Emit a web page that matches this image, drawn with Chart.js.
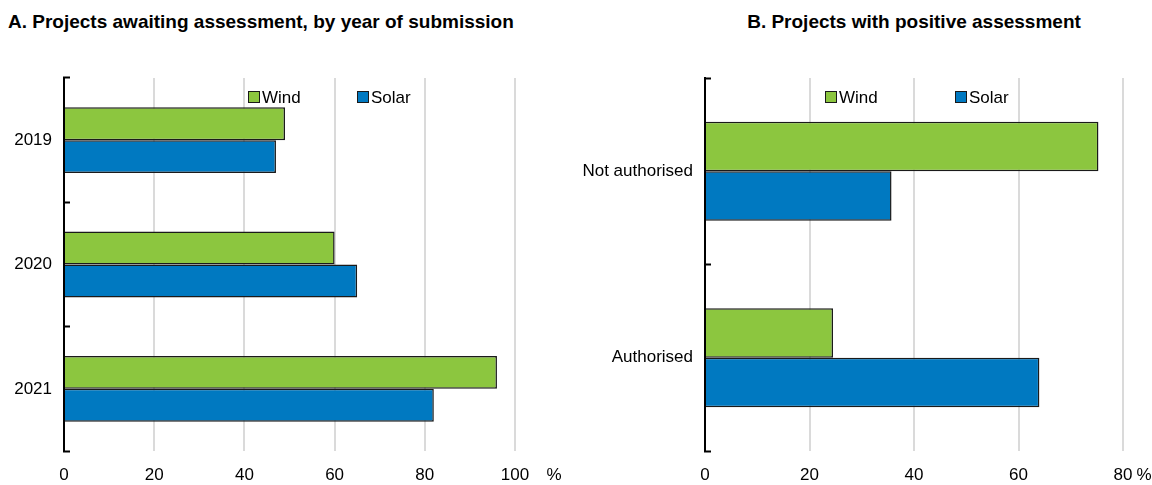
<!DOCTYPE html>
<html>
<head>
<meta charset="utf-8">
<script src="https://cdn.jsdelivr.net/npm/chart.js@4.4.1/dist/chart.umd.min.js"></script>
<style>
    body { margin: 0; background: #fff; }
    #wrap { position: relative; width: 1152px; height: 485px; overflow: hidden; }
    .title { position: absolute; top: 11px; font-family: "Liberation Sans", Arial, sans-serif; font-weight: bold; font-size: 19px; color: #000; white-space: nowrap; }
    #titleA { left: 8px; }
    #titleB { left: 705px; width: 418px; text-align: center; }
    .box { position: absolute; top: 0; width: 576px; height: 485px; }
</style>
</head>
<body>
<div id="wrap">
    <div class="title" id="titleA">A. Projects awaiting assessment, by year of submission</div>
    <div class="title" id="titleB">B. Projects with positive assessment</div>
    <div class="box" style="left:0"><canvas id="chartA"></canvas></div>
    <div class="box" style="left:576px"><canvas id="chartB"></canvas></div>
</div>
<script>

// panel A data - share of projects awaiting assessment (%)
var yearLabels = ["2019", "2020", "2021"];
var windAwaiting = [49, 60, 96];
var solarAwaiting = [47, 65, 82];

// panel B data - projects with positive assessment (%)
var statusLabels = ["Not authorised", "Authorised"];
var windPositive = [75.3, 24.5];
var solarPositive = [35.7, 64];

var xTicksA = [0, 20, 40, 60, 80, 100];
var xTicksB = [0, 20, 40, 60, 80];

var windColor = "#8cc63f";
var solarColor = "#0079c1";
var fontFamily = '"Liberation Sans", Arial, sans-serif';

Chart.defaults.font.family = fontFamily;
Chart.defaults.font.size = 17;
Chart.defaults.color = "#000";

// legend drawn inside the plot, boxes + names from the datasets
var insideLegend = {
    id: 'insideLegend',
    afterDraw: function (chart, args, opts) {
        var ctx = chart.ctx;
        var area = chart.chartArea;
        ctx.save();
        ctx.font = "17px " + fontFamily;
        ctx.textBaseline = "middle";
        ctx.textAlign = "left";
        chart.data.datasets.forEach(function (ds, i) {
            var x = area.left + opts.offsets[i];
            var y = opts.y;
            ctx.fillStyle = ds.backgroundColor;
            ctx.fillRect(x, y - 6, 12, 12);
            ctx.strokeStyle = "#1a1a1a";
            ctx.lineWidth = 1;
            ctx.strokeRect(x + 0.5, y - 5.5, 11, 11);
            ctx.fillStyle = "#000";
            ctx.fillText(ds.label, x + 14, y + 1);
        });
        ctx.restore();
    }
};

// unit sign after the last x tick
var unitLabel = {
    id: 'unitLabel',
    afterDraw: function (chart, args, opts) {
        var ctx = chart.ctx;
        ctx.save();
        ctx.font = "17px " + fontFamily;
        ctx.fillStyle = "#000";
        ctx.textAlign = "center";
        ctx.textBaseline = "middle";
        ctx.fillText("%", chart.chartArea.right + opts.dx, 475);
        ctx.restore();
    }
};

function makeChart(id, labels, wind, solar, xTicks, yWidth, rightPad, legendOffsets, unitDx) {
    var ctx = document.getElementById(id).getContext('2d');
    return new Chart(ctx, {
        type: 'bar',
        data: {
            labels: labels,
            datasets: [{
                label: 'Wind',
                data: wind,
                backgroundColor: windColor,
                borderColor: "#1a1a1a",
                borderWidth: 1.5,
                categoryPercentage: 0.53,
                barPercentage: 1
            }, {
                label: 'Solar',
                data: solar,
                backgroundColor: solarColor,
                borderColor: "#1a1a1a",
                borderWidth: 1.5,
                categoryPercentage: 0.53,
                barPercentage: 1
            }]
        },
        options: {
            indexAxis: 'y',
            responsive: true,
            maintainAspectRatio: false,
            animation: false,
            layout: { padding: { top: 78, right: rightPad, left: 0, bottom: 0 } },
            plugins: {
                legend: { display: false },
                tooltip: { enabled: false },
                insideLegend: { offsets: legendOffsets, y: 97 },
                unitLabel: { dx: unitDx }
            },
            scales: {
                x: {
                    min: 0,
                    max: xTicks[xTicks.length - 1],
                    afterBuildTicks: function (axis) {
                        axis.ticks = xTicks.map(function (v) { return { value: v }; });
                    },
                    afterFit: function (axis) { axis.height = 34; },
                    border: { display: false },
                    grid: {
                        color: function (c) { return c.tick && c.tick.value === 0 ? 'rgba(0,0,0,0)' : '#dadada'; },
                        lineWidth: 2,
                        drawTicks: false
                    },
                    ticks: { padding: 14, maxRotation: 0 }
                },
                y: {
                    afterFit: function (axis) { axis.width = yWidth; },
                    border: { display: true, color: "#000", width: 2 },
                    grid: {
                        drawOnChartArea: false,
                        drawTicks: true,
                        tickLength: -6,
                        tickColor: "#000",
                        tickWidth: 2
                    },
                    ticks: { padding: 18 }
                }
            }
        },
        plugins: [insideLegend, unitLabel]
    });
}

makeChart('chartA', yearLabels, windAwaiting, solarAwaiting, xTicksA, 64, 61, [184, 293], 39);
makeChart('chartB', statusLabels, windPositive, solarPositive, xTicksB, 129, 29, [120, 250], 21);

</script>
</body>
</html>
